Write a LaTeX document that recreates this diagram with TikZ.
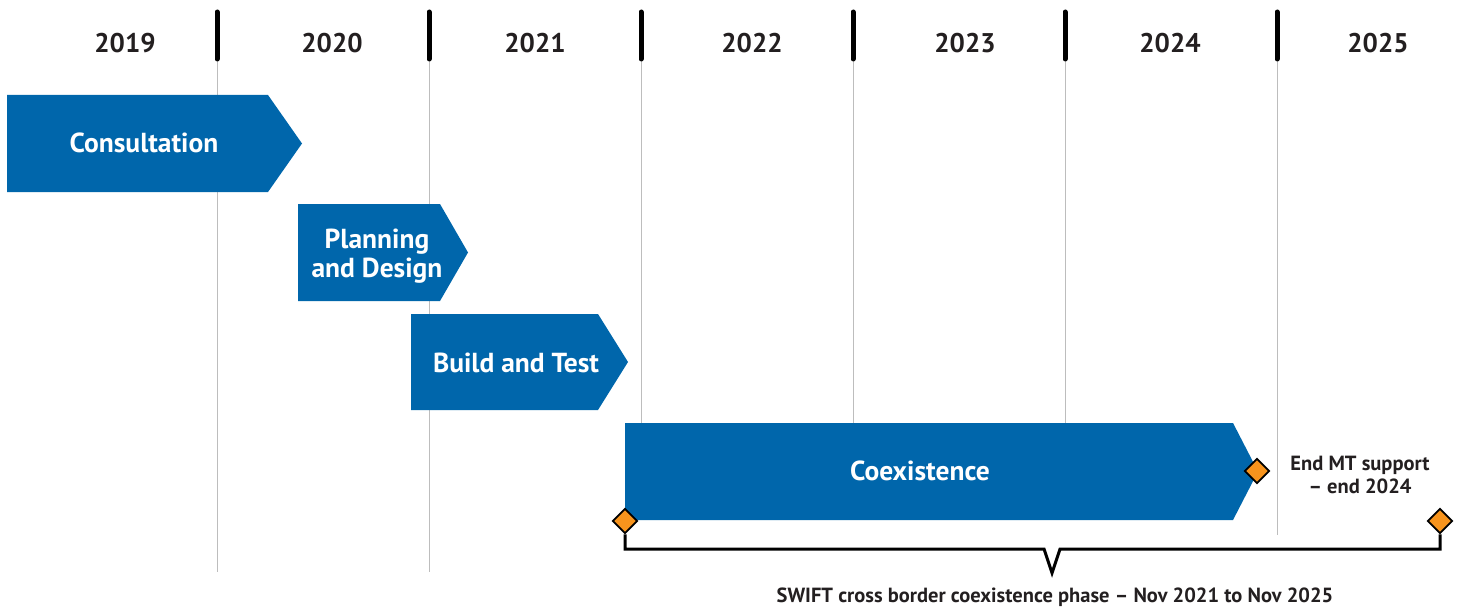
\documentclass[tikz,border=0pt]{standalone}
\usepackage{fontspec}
\setmainfont{PT Sans}
\usetikzlibrary{shapes.geometric}
\definecolor{barblue}{HTML}{0066AB}
\definecolor{msorange}{HTML}{F7941D}
\definecolor{txtdark}{HTML}{231F20}
\definecolor{gridgray}{HTML}{BDBDBD}
\tikzset{
  yearlbl/.style={font=\fontsize{27}{30}\selectfont\bfseries, text=txtdark},
  tickmark/.style={line width=5pt, line cap=round, black},
  gridline/.style={line width=1pt, gridgray},
  bar/.style={fill=barblue},
  bartext/.style={font=\fontsize{27.5}{29.5}\selectfont\bfseries, text=white, align=center},
  milestone/.style={diamond, draw=black, line width=1.8pt, fill=msorange, minimum width=25pt, minimum height=25pt, inner sep=0pt},
  bracketline/.style={line width=3pt, black, line join=miter},
  notetext/.style={font=\fontsize{20.5}{22.5}\selectfont\bfseries, text=txtdark, align=center},
}
\begin{document}
\begin{tikzpicture}[x=1pt,y=-1pt]
\useasboundingbox (0,0) rectangle (1466,615);
% grid lines
\foreach \gx/\gy in {217/572, 429/572, 641/520, 853/520, 1065/520, 1277/535}{
  \draw[gridline] (\gx,61) -- (\gx,\gy);
}
% ticks
\foreach \gx in {217,429,641,853,1065,1277}{
  \draw[tickmark] (\gx,12) -- (\gx,59);
}
% year labels
\node[yearlbl] (y2019) at (125,43) {2019};
\node[yearlbl] (y2020) at (332,43) {2020};
\node[yearlbl] (y2021) at (535,43) {2021};
\node[yearlbl] (y2022) at (752,43) {2022};
\node[yearlbl] (y2023) at (965,43) {2023};
\node[yearlbl] (y2024) at (1170,43) {2024};
\node[yearlbl] (y2025) at (1378,43) {2025};
% bars
\fill[bar] (7,95) -- (268,95) -- (302,143.5) -- (268,192) -- (7,192) -- cycle;
\fill[bar] (298,204) -- (440,204) -- (468,252.5) -- (440,301) -- (298,301) -- cycle;
\fill[bar] (411,314) -- (598,314) -- (628,362) -- (598,410) -- (411,410) -- cycle;
\fill[bar] (625,423) -- (1233,423) -- (1258,471.5) -- (1233,520) -- (625,520) -- cycle;
\node[bartext] (consult) at (144,143) {Consultation};
\node[bartext] (plan) at (377,256) {Planning\\and Design};
\node[bartext] (build) at (516,363) {Build and Test};
\node[bartext] (coex) at (920,471) {Coexistence};
% bracket
\coordinate (bl) at (625,549);
\coordinate (br) at (1440,549);
\coordinate (n1) at (1044,549);
\coordinate (n2) at (1052,573);
\coordinate (n3) at (1060,549);
\node[milestone] (mstart) at (625,521) {};
\node[milestone] (mend) at (1440,521) {};
\draw[bracketline] (mstart.south) -- (bl) -- (n1) -- (n2) -- (n3) -- (br) -- (mend.south);
\node[milestone] (mmt) at (1257,471) {};
% notes
\node[notetext] (mtnote) at (1360,475) {End MT support\\– end 2024};
\node[notetext] (phase) at (1055,597) {SWIFT cross border coexistence phase – Nov 2021 to Nov 2025};
\end{tikzpicture}
\end{document}
